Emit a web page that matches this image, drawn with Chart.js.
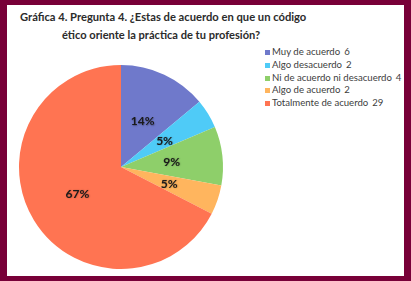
<!DOCTYPE html>
<html>
<head>
<meta charset="utf-8">
<script src="https://cdn.jsdelivr.net/npm/chart.js@4"></script>
<style>
html,body{margin:0;padding:0;}
body{width:411px;height:281px;background:#780038;position:relative;overflow:hidden;font-family:Lato,"Open Sans",sans-serif;}
#inner{position:absolute;left:7px;top:5px;width:397px;height:271px;background:#fff;}
#c{position:absolute;left:0;top:0;}
.t{position:absolute;font-weight:bold;color:#2b2b2b;white-space:nowrap;font-size:13px;line-height:16px;}
#leg{position:absolute;left:265px;top:46px;font-size:9.6px;color:#404040;}
.li{height:12.8px;line-height:12.8px;white-space:nowrap;position:relative;padding-left:7px;}
.sw{position:absolute;left:0;top:4px;width:5px;height:5px;}
.n{margin-left:4px;}
</style>
</head>
<body>
<div id="inner"></div>
<div class="t" id="t1" style="left:20px;top:9px;">Gráfica 4. Pregunta 4. ¿Estas de acuerdo en que un código</div>
<div class="t" id="t2" style="left:62px;top:27px;">ético oriente la práctica de tu profesión?</div>
<div id="leg"></div>
<canvas id="c" width="411" height="281"></canvas>
<script>
const categories = ["Muy de acuerdo", "Algo desacuerdo", "Ni de acuerdo ni desacuerdo", "Algo de acuerdo", "Totalmente de acuerdo"];
const counts = [6, 2, 4, 2, 29];
const percentLabels = ["14%", "5%", "9%", "5%", "67%"];
const colors = ["#6f79cb", "#4fcbf7", "#8ecf6a", "#ffb55e", "#ff7452"];

function fit(id, w){const el=document.getElementById(id);let fs=13;el.style.fontSize=fs+'px';while(el.offsetWidth>w&&fs>8){fs-=0.1;el.style.fontSize=fs+'px';}}
fit('t1',287);fit('t2',199);

const leg=document.getElementById('leg');
categories.forEach((c,i)=>{
  const d=document.createElement('div');d.className='li';
  d.innerHTML='<span class="sw" style="background:'+colors[i]+'"></span>'+c+'<span class="n">'+counts[i]+'</span>';
  leg.appendChild(d);
});

const labelPlugin={
  id:'pctLabels',
  afterDatasetsDraw(chart){
    const ctx=chart.ctx;const meta=chart.getDatasetMeta(0);
    ctx.save();
    ctx.font='bold 12px Lato, "Open Sans", sans-serif';
    ctx.textAlign='center';ctx.textBaseline='middle';
    meta.data.forEach((arc,i)=>{
      const mid=(arc.startAngle+arc.endAngle)/2;
      const r=arc.outerRadius*0.5;
      const x=arc.x+Math.cos(mid)*r, y=arc.y+Math.sin(mid)*r;
      ctx.shadowColor='rgba(0,0,0,0.35)';ctx.shadowBlur=1.5;ctx.shadowOffsetX=0.5;ctx.shadowOffsetY=0.5;
      ctx.fillStyle='#1a1a1a';
      ctx.fillText(percentLabels[i],x,y+0.5);
    });
    ctx.restore();
  }
};

new Chart(document.getElementById('c'),{
  type:'pie',
  data:{labels:categories,datasets:[{data:counts,backgroundColor:colors,borderWidth:0,hoverOffset:0}]},
  options:{
    responsive:false,animation:false,devicePixelRatio:1,
    layout:{padding:{left:19,top:65,right:188,bottom:12}},
    plugins:{legend:{display:false},tooltip:{enabled:false},title:{display:false}},
    events:[]
  },
  plugins:[labelPlugin]
});
</script>
</body>
</html>
